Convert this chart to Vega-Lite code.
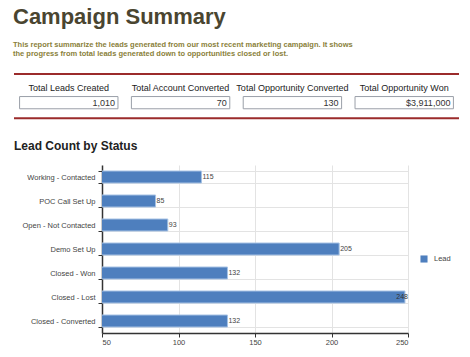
{
  "$schema": "https://vega.github.io/schema/vega-lite/v6.json",
  "padding": {"left": 13, "top": 5, "right": 5, "bottom": 5},
  "background": "white",
  "config": {"font": "Liberation Sans", "view": {"stroke": null}, "concat": {"spacing": 19}},
  "title": {
    "text": "Campaign Summary",
    "subtitle": ["This report summarize the leads generated from our most recent marketing campaign. It shows", "the progress from total leads generated down to opportunities closed or lost."],
    "anchor": "start",
    "fontSize": 22,
    "fontWeight": "bold",
    "color": "#4a4530",
    "subtitleFontSize": 7.5,
    "subtitleFontWeight": "bold",
    "subtitleColor": "#8a7f3a",
    "subtitleLineHeight": 9,
    "subtitlePadding": 12,
    "offset": 15
  },
  "datasets": {
    "kpis": [
      {"kpi": "Total Leads Created", "value": 1010, "kind": "count"},
      {"kpi": "Total Account Converted", "value": 70, "kind": "count"},
      {"kpi": "Total Opportunity Converted", "value": 130, "kind": "count"},
      {"kpi": "Total Opportunity Won", "value": 3911000, "kind": "currency"}
    ],
    "leads": [
      {"status": "Working - Contacted", "count": 115},
      {"status": "POC Call Set Up", "count": 85},
      {"status": "Open - Not Contacted", "count": 93},
      {"status": "Demo Set Up", "count": 205},
      {"status": "Closed - Won", "count": 132},
      {"status": "Closed - Lost", "count": 248},
      {"status": "Closed - Converted", "count": 132}
    ]
  },
  "vconcat": [
    {
      "width": 357,
      "height": 47,
      "data": {"name": "kpis"},
      "resolve": {"scale": {"x": "independent"}},
      "layer": [
        {
          "data": {"values": [{}]},
          "mark": {"type": "rule", "color": "#9b2b2b", "strokeWidth": 2},
          "encoding": {
            "x": {"datum": 0, "type": "quantitative", "scale": {"domain": [0, 1], "range": [-88, 357]}, "axis": null},
            "x2": {"datum": 1},
            "y": {"datum": 0, "type": "quantitative", "scale": {"domain": [0, 47], "reverse": true}, "axis": null}
          }
        },
        {
          "data": {"values": [{}]},
          "mark": {"type": "rule", "color": "#9b2b2b", "strokeWidth": 2},
          "encoding": {
            "x": {"datum": 0, "type": "quantitative", "scale": {"domain": [0, 1], "range": [-88, 357]}, "axis": null},
            "x2": {"datum": 1},
            "y": {"datum": 47, "type": "quantitative"}
          }
        },
        {
          "layer": [
            {
              "mark": {"type": "text", "fontSize": 9, "color": "#222", "baseline": "middle"},
              "encoding": {
                "x": {"field": "kpi", "type": "nominal", "sort": null, "scale": {"paddingInner": 0.12, "paddingOuter": 0.05, "range": [-88, 357]}, "axis": null},
                "y": {"datum": 15, "type": "quantitative"},
                "text": {"field": "kpi"}
              }
            },
            {
              "mark": {"type": "bar", "fill": "white", "stroke": "#9a9fa8", "strokeWidth": 1},
              "encoding": {
                "x": {"field": "kpi", "type": "nominal", "sort": null},
                "y": {"datum": 24, "type": "quantitative"},
                "y2": {"datum": 37}
              }
            },
            {
              "transform": [{"filter": "datum.kind == 'count'"}],
              "mark": {"type": "text", "fontSize": 9, "color": "#333", "baseline": "middle", "align": "right", "dx": -3},
              "encoding": {
                "x": {"field": "kpi", "type": "nominal", "sort": null, "bandPosition": 1},
                "y": {"datum": 30.5, "type": "quantitative"},
                "text": {"field": "value", "format": ","}
              }
            },
            {
              "transform": [{"filter": "datum.kind == 'currency'"}],
              "mark": {"type": "text", "fontSize": 9, "color": "#333", "baseline": "middle", "align": "right", "dx": -3},
              "encoding": {
                "x": {"field": "kpi", "type": "nominal", "sort": null, "bandPosition": 1},
                "y": {"datum": 30.5, "type": "quantitative"},
                "text": {"field": "value", "format": "$,"}
              }
            }
          ]
        }
      ]
    },
    {
      "width": 306,
      "height": 168,
      "title": {"text": "Lead Count by Status", "anchor": "start", "frame": "group", "dx": -88, "fontSize": 12, "fontWeight": "bold", "color": "#222", "offset": 8},
      "data": {"name": "leads"},
      "encoding": {
        "y": {
          "field": "status", "type": "nominal", "sort": null,
          "scale": {"paddingInner": 0.5, "paddingOuter": 0.25},
          "axis": {"title": null, "labelFontSize": 7.5, "labelColor": "#444", "tickBand": "extent", "tickColor": "#333", "tickSize": 4, "domainColor": "#333", "domainWidth": 1.5, "grid": true, "gridColor": "#e3e3e3", "labelPadding": 3}
        }
      },
      "layer": [
        {
          "mark": {"type": "bar", "clip": true, "stroke": "#a6c2e4", "strokeWidth": 1},
          "encoding": {
            "x": {
              "field": "count", "type": "quantitative",
              "scale": {"domain": [50, 250], "zero": false, "nice": false},
              "axis": {"title": null, "values": [50, 100, 150, 200, 250], "labelFontSize": 7.5, "labelColor": "#444", "tickColor": "#333", "tickSize": 4, "domainColor": "#333", "domainWidth": 1.5, "grid": true, "gridColor": "#e3e3e3", "labelPadding": 1}
            },
            "color": {
              "datum": "Lead", "type": "nominal",
              "scale": {"range": ["#4e7fbe"]},
              "legend": {"title": null, "orient": "none", "legendX": 318, "legendY": 181, "symbolType": "square", "symbolSize": 50, "symbolStrokeWidth": 0, "labelFontSize": 7.5, "labelColor": "#444", "labelOffset": 6}
            }
          }
        },
        {
          "transform": [{"filter": "datum.count < 240"}],
          "mark": {"type": "text", "fontSize": 7, "color": "#444", "align": "left", "baseline": "middle", "dx": 1},
          "encoding": {
            "x": {"field": "count", "type": "quantitative"},
            "text": {"field": "count"}
          }
        },
        {
          "transform": [{"filter": "datum.count >= 240"}],
          "mark": {"type": "text", "fontSize": 7, "color": "#333", "align": "right", "baseline": "middle", "dx": 3},
          "encoding": {
            "x": {"field": "count", "type": "quantitative"},
            "text": {"field": "count"}
          }
        }
      ]
    }
  ]
}
